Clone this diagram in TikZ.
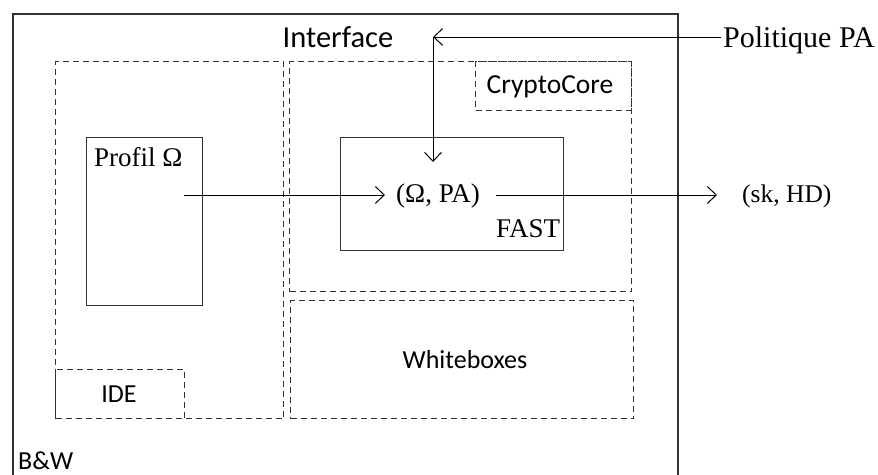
\documentclass[tikz,border=0pt]{standalone}
\usepackage{fontspec}
\setmainfont{Liberation Serif}
\newfontfamily\calib{Carlito}
\usetikzlibrary{arrows.meta}
\begin{document}
\begin{tikzpicture}[x=1pt,y=-1pt,
  solidbox/.style={draw=black!80,line width=1.3pt,anchor=north west,inner sep=0pt},
  dbox/.style={draw=black!80,line width=1.3pt,dash pattern=on 6pt off 4pt,anchor=north west,inner sep=0pt},
  sanslbl/.style={font=\calib\fontsize{26}{30}\selectfont,inner sep=0pt},
  seriflbl/.style={font=\fontsize{27}{31}\selectfont,inner sep=0pt},
  arr/.style={line width=1pt,-{Straight Barb[length=9pt,width=17pt,line width=1pt]}}]
\useasboundingbox (0,0) rectangle (878,474);
% boxes
\node[solidbox,line width=1.8pt,minimum width=665pt,minimum height=475pt] (bw) at (12,13) {};
\node[dbox,minimum width=228pt,minimum height=357pt] (left) at (55,61) {};
\node[dbox,minimum width=342pt,minimum height=230pt] (right) at (289,61) {};
\node[dbox,minimum width=156pt,minimum height=49pt] (cc) at (475,61) {};
\node[dbox,minimum width=343pt,minimum height=118pt] (wb) at (290,300) {};
\node[dbox,minimum width=129pt,minimum height=49pt] (ide) at (55,369) {};
\node[solidbox,minimum width=116pt,minimum height=168pt] (prof) at (86,137) {};
\node[solidbox,minimum width=223pt,minimum height=113pt] (fast) at (340,137) {};
% labels
\node[sanslbl,font=\calib\fontsize{30.5}{34}\selectfont,anchor=base] (iface) at (338,47) {Interface};
\node[sanslbl,font=\calib\fontsize{27.5}{31}\selectfont,anchor=base] (cclbl) at (550,93) {CryptoCore};
\node[sanslbl,anchor=base] (wblbl) at (465,368) {Whiteboxes};
\node[sanslbl,anchor=base] (idelbl) at (119,402) {IDE};
\node[sanslbl,anchor=base west] (bwlbl) at (18,469) {B\&W};
\node[seriflbl,anchor=base west] (proflbl) at (94,166) {Profil Ω};
\node[seriflbl,anchor=base west] (opa) at (396,202) {(Ω, PA)};
\node[seriflbl,anchor=base west] (fastlbl) at (496,237) {FAST};
\node[seriflbl,font=\fontsize{25.5}{30}\selectfont,anchor=base west] (skhd) at (742,202) {(sk, HD)};
\node[seriflbl,font=\fontsize{30}{34}\selectfont,anchor=base west] (pol) at (723,47) {Politique PA};
% connectors
\coordinate (junc) at (433,37);
\coordinate (down) at (433,162);
\coordinate (pstart) at (184,195);
\coordinate (pend) at (385,195);
\coordinate (ostart) at (496,195);
\coordinate (oend) at (717,195);
\draw[arr] (pol.west |- junc) ++(-2,0) -- (junc);
\draw[line width=1pt] (junc) -- (433,38);
\draw[arr] (junc) -- (down);
\draw[arr] (pstart) -- (pend);
\draw[arr] (ostart) -- (oend);
\end{tikzpicture}
\end{document}
